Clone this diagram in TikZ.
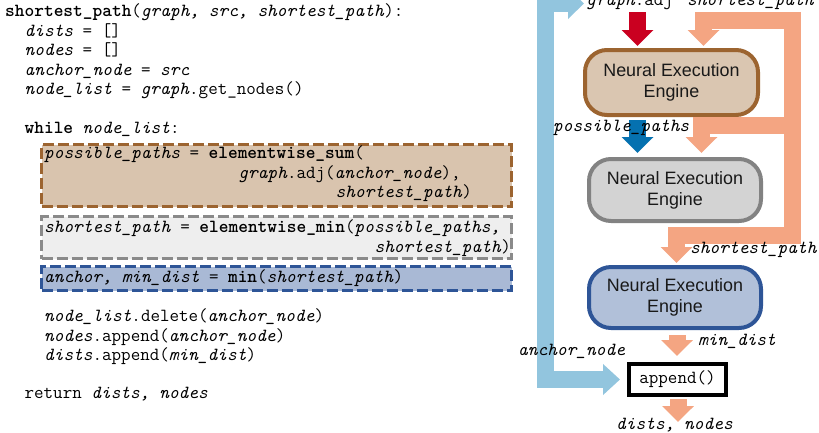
\documentclass[tikz,border=0pt]{standalone}
\usepackage{fontspec}
\setmainfont{Liberation Sans}
\usetikzlibrary{arrows.meta}

\definecolor{flowblue}{HTML}{92C5DE}
\definecolor{floworange}{HTML}{F4A582}
\definecolor{flowred}{HTML}{CA0020}
\definecolor{flowdeep}{HTML}{0571B0}
\definecolor{tanfill}{HTML}{DAC6B1}
\definecolor{tanline}{HTML}{9C6430}
\definecolor{greyfill}{HTML}{D3D3D3}
\definecolor{greyline}{HTML}{828282}
\definecolor{bluefill}{HTML}{B1C0D9}
\definecolor{blueline}{HTML}{2E5597}
\definecolor{sumfill}{HTML}{D9C4AE}
\definecolor{minfill}{HTML}{EEEEEE}
\definecolor{minline}{HTML}{8A8A8A}
\definecolor{argfill}{HTML}{A9B9D5}

\newcommand\codefont{\ttfamily\fontsize{18.5}{19.5}\selectfont}
\newcommand\enginefont{\rmfamily\fontsize{17.9}{21}\selectfont}

\tikzset{
  codeline/.style={anchor=base west, inner sep=0pt, font=\codefont},
  codebox/.style={draw=#1, line width=3pt, dash pattern=on 11pt off 4pt,
                  inner sep=0pt, minimum width=470pt},
  engine/.style={draw, line width=4pt, rounded corners=22pt, inner sep=0pt,
                 align=center, font=\enginefont, text=black!90},
  flow/.style={line width=17pt, -{Triangle[width=31pt,length=16pt]}},
}

\begin{document}
\begin{tikzpicture}[x=1pt,y=-1pt]
\useasboundingbox (0,0) rectangle (819,432);
\clip (0,0) rectangle (819,432);

% highlighted statements of the loop body
\node[codebox=tanline, fill=sumfill, minimum height=62pt] (sumbox) at (276.5,175.5) {};
\node[codebox=minline, fill=minfill, minimum height=42pt] (minbox) at (276.5,237.5) {};
\node[codebox=blueline, fill=argfill, minimum height=24pt] (argbox) at (276.5,278.5) {};

% pseudocode, one column = 9.72pt
\def\cw{9.72}
\node[codeline] (l1)  at (5,16.5)  {\textbf{shortest\_path}(\textit{graph, src, shortest\_path}):};
\node[codeline] (l2)  at ({5+2*\cw},36)   {\textit{dists} = []};
\node[codeline] (l3)  at ({5+2*\cw},55.5) {\textit{nodes} = []};
\node[codeline] (l4)  at ({5+2*\cw},75)   {\textit{anchor\_node} = \textit{src}};
\node[codeline] (l5)  at ({5+2*\cw},94.6) {\textit{node\_list} = \textit{graph}.get\_nodes()};
\node[codeline] (l6)  at ({5+2*\cw},133.6) {\textbf{while} \textit{node\_list}:};
\node[codeline] (l7)  at ({5+4*\cw},158.5) {\textit{possible\_paths} = \textbf{elementwise\_sum}(};
\node[codeline] (l8)  at ({5+24*\cw},178)  {\textit{graph}.adj(\textit{anchor\_node}),};
\node[codeline] (l9)  at ({5+34*\cw},197.5) {\textit{shortest\_path})};
\node[codeline] (l10) at ({5+4*\cw},232.5) {\textit{shortest\_path} = \textbf{elementwise\_min}(\textit{possible\_paths,}};
\node[codeline] (l11) at ({5+38*\cw},252.5) {\textit{shortest\_path})};
\node[codeline] (l12) at ({5+4*\cw},282.5) {\textit{anchor, min\_dist} = \textbf{min}(\textit{shortest\_path})};
\node[codeline] (l13) at ({5+4*\cw},321.5) {\textit{node\_list}.delete(\textit{anchor\_node})};
\node[codeline] (l14) at ({5+4*\cw},341)   {\textit{nodes}.append(\textit{anchor\_node})};
\node[codeline] (l15) at ({5+4*\cw},360.5) {\textit{dists}.append(\textit{min\_dist})};
\node[codeline] (l16) at ({5+2*\cw},398.5) {return \textit{dists, nodes}};

% the three engines and the append step
\node[engine, draw=tanline, fill=tanfill, minimum width=173pt, minimum height=65pt]
  (nee1) at (671.5,82.5) {Neural Execution\\Engine};
\node[engine, draw=greyline, fill=greyfill, minimum width=172pt, minimum height=62pt]
  (nee2) at (675,190) {Neural Execution\\Engine};
\node[engine, draw=blueline, fill=bluefill, minimum width=172pt, minimum height=61pt]
  (nee3) at (675,297.5) {Neural Execution\\Engine};
\node[draw, line width=4pt, fill=white, inner sep=0pt, minimum width=97pt,
      minimum height=31pt, font=\codefont] (app) at (677.5,379.5) {append()};

% anchor node feedback loop
\coordinate (loopin) at (584,3.5);
\coordinate (loopbend) at (545,3.5);
\draw[flowblue, line width=17pt,
      {Triangle[width=30pt,length=16pt]}-{Triangle[width=30pt,length=17pt]},
      shorten >=7pt] (loopin) -- (loopbend) |- (app.west);

% adjacency input
\coordinate (adjin) at (637.5,12);
\draw[flow, flowred, shorten >=2pt] (adjin) -- (adjin |- nee1.north);

% possible paths
\coordinate (ppx) at (637.5,0);
\draw[flow, flowdeep, shorten <=3pt, shorten >=4pt] (ppx |- nee1.south) -- (ppx |- nee2.north);

% shortest path distribution
\coordinate (sptop) at (792,12);
\coordinate (spcorner) at (792,235);
\coordinate (sp3) at (676.5,235);
\coordinate (sptopbar) at (792,20);
\coordinate (sp1) at (703.5,20);
\coordinate (spmid) at (792,125);
\coordinate (sp2) at (701.5,125);
\draw[flow, floworange, shorten >=2pt] (sptop) -- (spcorner) -- (sp3) -- (sp3 |- nee3.north);
\draw[flow, floworange, shorten >=2pt] (sptopbar) -- (sp1) -- (sp1 |- nee1.north);
\draw[flow, floworange, shorten >=4pt] (spmid) -- (sp2) -- (sp2 |- nee2.north);

% min distance into append, and the result
\coordinate (mdx) at (677,0);
\draw[flow, floworange, shorten <=5pt, shorten >=6pt] (mdx |- nee3.south) -- (mdx |- app.north);
\coordinate (result) at (678,422);
\draw[flow, floworange, shorten <=2pt] (app.south -| result) -- (result);

% labels on the flow
\node[codeline] (lbadj)  at (586,5)   {\textit{graph}.adj};
\node[codeline] (lbsp)   at (687,5)   {\textit{shortest\_path}};
\node[codeline] (lbpp)   at (553,131) {\textit{possible\_paths}};
\node[codeline] (lbsp2)  at (690,253) {\textit{shortest\_path}};
\node[codeline] (lbmd)   at (698,345) {\textit{min\_dist}};
\node[codeline] (lban)   at (518,355) {\textit{anchor\_node}};
\node[codeline] (lbout)  at (616,429) {\textit{dists, nodes}};
\end{tikzpicture}
\end{document}
